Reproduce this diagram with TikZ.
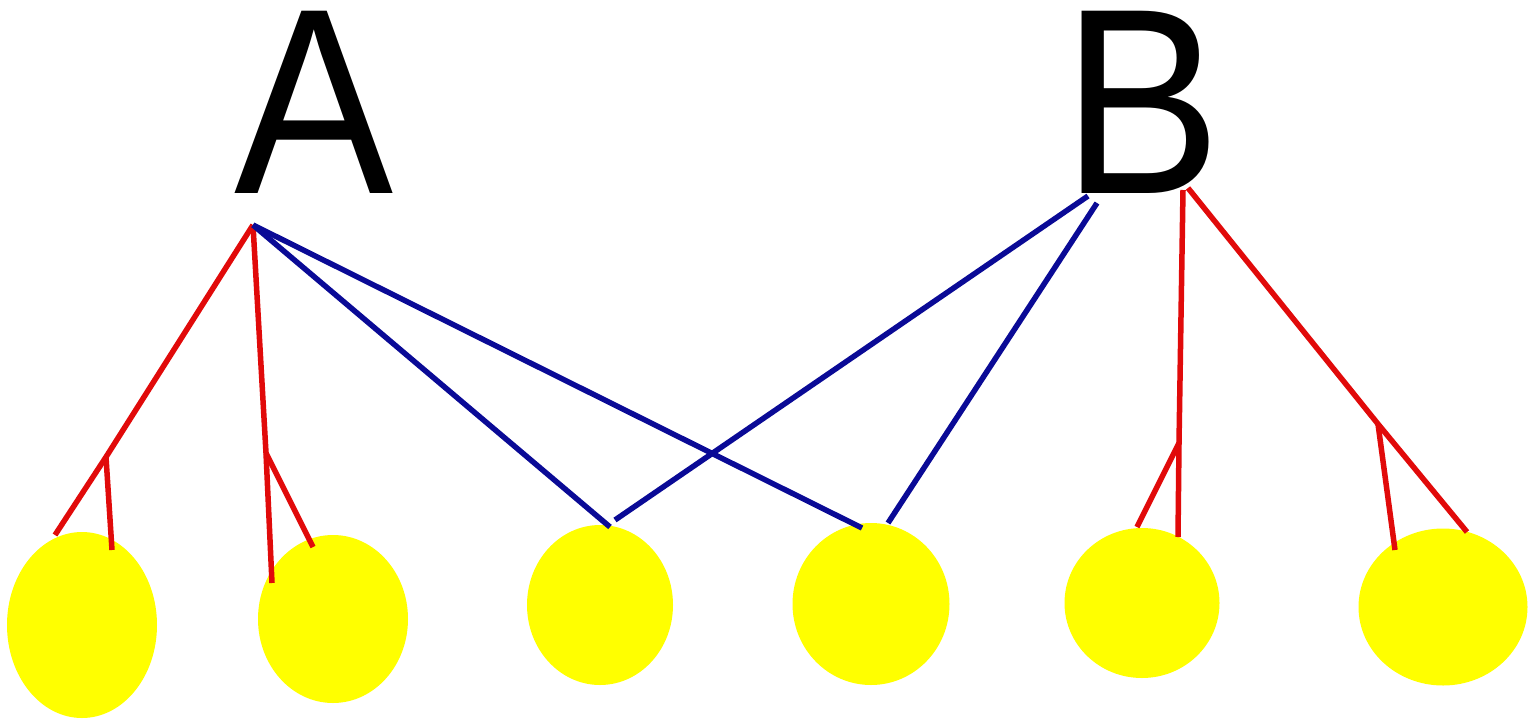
\documentclass[tikz,border=0pt]{standalone}
\usepackage{fontspec}
\setmainfont{Liberation Sans}
\usetikzlibrary{shapes.geometric}
\definecolor{redline}{RGB}{225,10,10}
\definecolor{blueline}{RGB}{10,10,150}
\definecolor{ball}{RGB}{255,255,0}
\tikzset{
  ball/.style={ellipse, fill=ball, draw=none, inner sep=0pt},
  redc/.style={draw=redline, line width=5.5pt},
  bluec/.style={draw=blueline, line width=5.5pt},
  letter/.style={inner sep=0pt, anchor=base, font=\fontsize{265}{265}\selectfont}
}
\begin{document}
\begin{tikzpicture}[x=1pt,y=-1pt]
\useasboundingbox[fill=white] (0,0) rectangle (1537,721);
% letters
\node[letter] (A) at (314,193) {\smash{\scalebox{0.9}[1]{A}}};
\node[letter] (B) at (1142,193) {\smash{\scalebox{0.9}[1]{B}}};
% balls
\node[ball, minimum width=150pt, minimum height=186pt] (c1) at (82,625) {};
\node[ball, minimum width=150pt, minimum height=168pt] (c2) at (333,619) {};
\node[ball, minimum width=146pt, minimum height=160pt] (c3) at (600,605) {};
\node[ball, minimum width=157pt, minimum height=162pt] (c4) at (871,604) {};
\node[ball, minimum width=155pt, minimum height=150pt] (c5) at (1142,603) {};
\node[ball, minimum width=169pt, minimum height=157pt] (c6) at (1443,607) {};
% apex and branch points
\coordinate (a) at (253,225);
\coordinate (ab1) at (106,457);
\coordinate (ab2) at (266,453);
\coordinate (b1) at (1088,196);
\coordinate (b2) at (1097,203);
\coordinate (br1) at (1183,190);
\coordinate (br2) at (1188,188);
\coordinate (bb1) at (1179,443);
\coordinate (bb2) at (1378,424);
% free ends on the balls
\coordinate (e1a) at (55,535);
\coordinate (e1b) at (112,550);
\coordinate (e2a) at (272,583);
\coordinate (e2b) at (313,547);
\coordinate (e3a) at (610,527);
\coordinate (e3b) at (615,520);
\coordinate (e4a) at (862,528);
\coordinate (e4b) at (888,523);
\coordinate (e5a) at (1137,527);
\coordinate (e5b) at (1178,537);
\coordinate (e6a) at (1395,550);
\coordinate (e6b) at (1467,532);
% red connectors from A
\draw[redc] (a) -- (ab1) -- (e1a);
\draw[redc] (ab1) -- (e1b);
\draw[redc] (a) -- (ab2) -- (e2a);
\draw[redc] (ab2) -- (e2b);
% blue connectors
\draw[bluec] (a) -- (e3a);
\draw[bluec] (a) -- (e4a);
\draw[bluec] (b1) -- (e3b);
\draw[bluec] (b2) -- (e4b);
% red connectors from B
\draw[redc] (br1) -- (bb1) -- (e5b);
\draw[redc] (bb1) -- (e5a);
\draw[redc] (br2) -- (bb2) -- (e6b);
\draw[redc] (bb2) -- (e6a);
\end{tikzpicture}
\end{document}
